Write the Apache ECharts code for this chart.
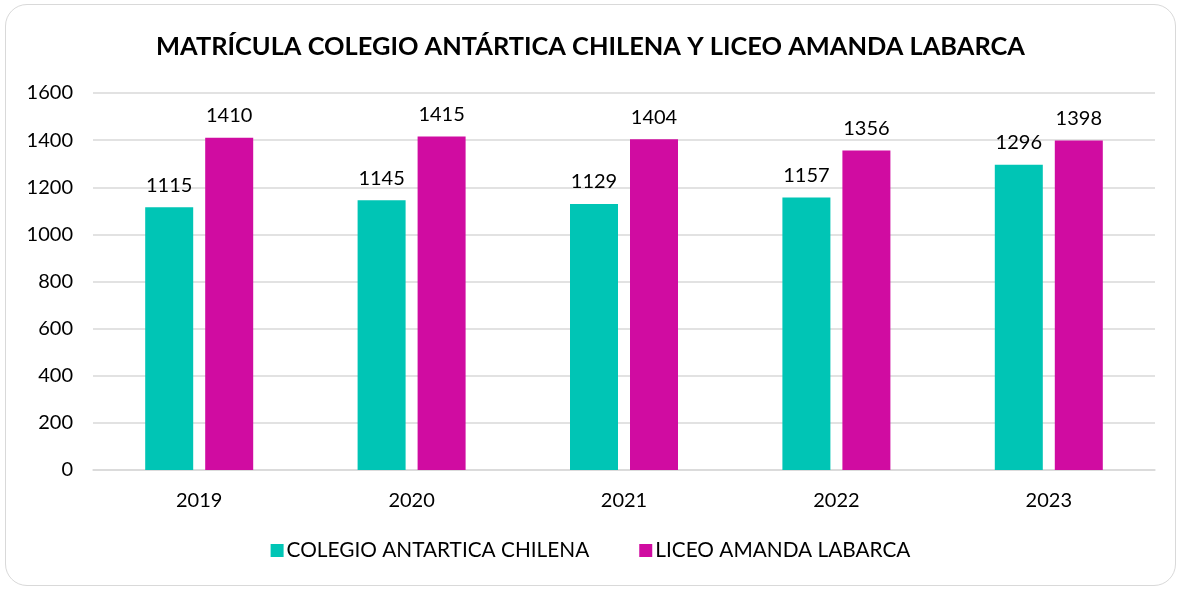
<!DOCTYPE html>
<html>
<head>
<meta charset="utf-8">
<script src="https://cdn.jsdelivr.net/npm/echarts@6/dist/echarts.min.js"></script>
<style>
  html, body { margin: 0; padding: 0; background: #fff; }
  #frame {
    position: absolute; left: 5px; top: 4px; width: 1171px; height: 582px;
    border: 1.5px solid #d9d9d9; border-radius: 22px; box-sizing: border-box;
  }
  #chart { position: absolute; left: 0; top: 0; width: 1181px; height: 591px; }
</style>
</head>
<body>
<div id="frame"></div>
<div id="chart"></div>
<script>
var years = ['2019', '2020', '2021', '2022', '2023'];
var colegio = [1115, 1145, 1129, 1157, 1296];
var liceo = [1410, 1415, 1404, 1356, 1398];

var font = 'Lato, "Open Sans", sans-serif';
var chart = echarts.init(document.getElementById('chart'));
var option = {
	animation: false,
	title: {
		text: 'MATRÍCULA COLEGIO ANTÁRTICA CHILENA Y LICEO AMANDA LABARCA',
		left: 'center',
		top: 29,
		textStyle: { color: '#000', fontSize: 25.4, fontWeight: 'bold', fontFamily: font }
	},
	grid: { left: 93, right: 26, top: 93, bottom: 121 },
	legend: {
		bottom: 25,
		left: 'center',
		itemWidth: 13,
		itemHeight: 13,
		itemGap: 50,
		icon: 'rect',
		textStyle: { color: '#000', fontSize: 20.8, fontFamily: font, padding: [0, 0, 0, -2] },
		data: ['COLEGIO ANTARTICA CHILENA', 'LICEO AMANDA LABARCA']
	},
	xAxis: {
		type: 'category',
		data: years,
		axisLine: { lineStyle: { color: '#d9d9d9', width: 1.5 } },
		axisTick: { show: false },
		axisLabel: { color: '#000', fontSize: 20, fontFamily: font, margin: 21 }
	},
	yAxis: {
		type: 'value',
		min: 0,
		max: 1600,
		interval: 200,
		axisLine: { show: false },
		axisTick: { show: false },
		splitLine: { lineStyle: { color: '#d9d9d9', width: 1.5 } },
		axisLabel: {
			color: '#000', fontSize: 20, fontFamily: font, margin: 20,
			formatter: function (v) { return String(v); }
		}
	},
	series: [{
		name: 'COLEGIO ANTARTICA CHILENA',
		type: 'bar',
		barWidth: 48,
		barGap: '25%',
		itemStyle: { color: '#00c5b5' },
		label: { show: true, position: 'top', distance: 12, color: '#000', fontSize: 20, fontFamily: font },
		data: colegio
	}, {
		name: 'LICEO AMANDA LABARCA',
		type: 'bar',
		barWidth: 48,
		itemStyle: { color: '#d00ca1' },
		label: { show: true, position: 'top', distance: 12, color: '#000', fontSize: 20, fontFamily: font },
		data: liceo
	}]
};
chart.setOption(option);
</script>
</body>
</html>
